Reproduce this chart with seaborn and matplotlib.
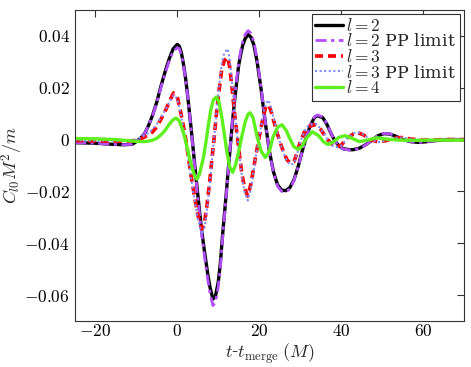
#!/usr/bin/env python3
"""
Ringdown multipole amplitudes C_l0 vs time relative to merger
"""

import numpy as np
import pandas as pd
import matplotlib
matplotlib.use('Agg')
import matplotlib.pyplot as plt
from matplotlib.ticker import FuncFormatter
import seaborn as sns

# l = 2 (full and PP limit share the time samples)
t_l2 = [-25, -20, -16, -13, -11, -10, -9, -8, -7, -6, -5, -4, -3, -2, -1, 0,
        0.5, 1, 1.5, 2, 2.5, 3, 3.5, 4, 4.5, 5, 5.5, 6, 6.5, 7, 7.5, 8, 8.7,
        9.3, 10, 10.5, 11, 11.5, 12, 12.5, 13, 13.5, 14, 14.5, 15, 15.5, 16,
        16.6, 17.3, 18, 18.7, 19.5, 20.5, 21.5, 22.5, 23.5, 24.5, 25.5, 26.5,
        27.5, 28.5, 29.5, 30.5, 31.5, 32.5, 33.5, 34.2, 35.5, 36.5, 37.5,
        38.5, 39.5, 40.5, 42, 43, 44.5, 46, 47.5, 49, 50.5, 52, 53.5, 55, 57,
        59, 61, 63, 66, 70]
c_l2 = [-0.0012, -0.0014, -0.0018, -0.0020, -0.0018, -0.0008, 0.0005, 0.0022,
        0.0055, 0.0095, 0.0145, 0.0205, 0.0260, 0.0310, 0.0350, 0.0367,
        0.0360, 0.0335, 0.0292, 0.0240, 0.0175, 0.0100, 0.0025, -0.0055,
        -0.0135, -0.0210, -0.0285, -0.0355, -0.0415, -0.0470, -0.0525,
        -0.0570, -0.0615, -0.0605, -0.0550, -0.0480, -0.0380, -0.0290,
        -0.0200, -0.0107, -0.0017, 0.0072, 0.0150, 0.0220, 0.0287, 0.0330,
        0.0365, 0.0390, 0.0405, 0.0395, 0.0365, 0.0300, 0.0190, 0.0065,
        -0.0045, -0.0125, -0.0175, -0.0195, -0.0197, -0.0185, -0.0155,
        -0.0105, -0.0045, 0.0010, 0.0055, 0.0085, 0.0092, 0.0085, 0.0060,
        0.0025, -0.0005, -0.0025, -0.0035, -0.0039, -0.0039, -0.0033,
        -0.0020, -0.0003, 0.0015, 0.0023, 0.0021, 0.0012, 0.0001, -0.0008,
        -0.0011, -0.0008, -0.0004, 0.0000, 0.0000]
c_l2_pp = [-0.0012, -0.0014, -0.0018, -0.0020, -0.0018, -0.0008, 0.0005,
           0.0022, 0.0055, 0.0093, 0.0142, 0.0200, 0.0253, 0.0302, 0.0340,
           0.0355, 0.0350, 0.0328, 0.0288, 0.0238, 0.0174, 0.0099, 0.0022,
           -0.0060, -0.0142, -0.0220, -0.0297, -0.0370, -0.0432, -0.0490,
           -0.0545, -0.0592, -0.0640, -0.0628, -0.0570, -0.0497, -0.0393,
           -0.0300, -0.0206, -0.0110, -0.0016, 0.0076, 0.0157, 0.0230,
           0.0298, 0.0343, 0.0379, 0.0406, 0.0420, 0.0410, 0.0378, 0.0310,
           0.0196, 0.0067, -0.0046, -0.0128, -0.0180, -0.0200, -0.0202,
           -0.0190, -0.0158, -0.0107, -0.0046, 0.0011, 0.0057, 0.0088,
           0.0095, 0.0088, 0.0062, 0.0026, -0.0005, -0.0026, -0.0036,
           -0.0040, -0.0040, -0.0034, -0.0021, -0.0003, 0.0015, 0.0024,
           0.0022, 0.0012, 0.0001, -0.0008, -0.0011, -0.0008, -0.0004,
           0.0000, 0.0000]

# l = 3 (full and PP limit)
t_l3 = [-25, -20, -15, -12, -10, -9, -8, -7, -6, -5, -4, -3, -2, -0.9, 0,
        0.7, 1.3, 2, 2.6, 3.2, 3.8, 4.4, 5, 6, 6.6, 7.2, 8, 8.5, 9, 9.7, 10.3,
        10.9, 11.5, 12.3, 12.8, 13.3, 14, 14.6, 15.2, 15.8, 16.5, 17.2, 18,
        18.6, 19.3, 20.2, 21, 21.6, 22.3, 23, 23.5, 24.3, 25.1, 26, 26.8,
        27.7, 28.5, 29.3, 30, 31, 32, 33.7, 35, 36.6, 38, 39, 40, 41.5, 43,
        44, 45.5, 47, 49, 51, 53, 55, 57, 60, 65, 70]
c_l3 = [-0.0004, -0.0005, -0.0006, -0.0006, -0.0003, 0.0002, 0.0010, 0.0018,
        0.0030, 0.0050, 0.0078, 0.0108, 0.0145, 0.0180, 0.0165, 0.0115,
        0.0070, 0.0008, -0.0055, -0.0122, -0.0180, -0.0237, -0.0290,
        -0.0344, -0.0325, -0.0260, -0.0150, -0.0069, 0.0005, 0.0122,
        0.0200, 0.0275, 0.0305, 0.0317, 0.0280, 0.0210, 0.0100, 0.0019,
        -0.0060, -0.0134, -0.0190, -0.0218, -0.0170, -0.0115, -0.0050,
        0.0025, 0.0090, 0.0125, 0.0135, 0.0105, 0.0075, 0.0030, -0.0011,
        -0.0050, -0.0078, -0.0092, -0.0085, -0.0050, -0.0010, 0.0028,
        0.0050, 0.0058, 0.0040, 0.0002, -0.0022, -0.0027, -0.0022, 0.0005,
        0.0022, 0.0027, 0.0018, 0.0000, -0.0009, -0.0004, 0.0006, 0.0008,
        0.0002, -0.0002, 0.0000, 0.0000]
c_l3_pp = [-0.0003, -0.0004, -0.0005, -0.0004, 0.0000, 0.0007, 0.0016,
           0.0026, 0.0040, 0.0060, 0.0085, 0.0112, 0.0142, 0.0172, 0.0158,
           0.0108, 0.0062, 0.0000, -0.0064, -0.0132, -0.0192, -0.0250,
           -0.0305, -0.0365, -0.0345, -0.0278, -0.0162, -0.0074, 0.0005,
           0.0130, 0.0215, 0.0298, 0.0335, 0.0350, 0.0310, 0.0232, 0.0110,
           0.0020, -0.0065, -0.0145, -0.0205, -0.0235, -0.0185, -0.0124,
           -0.0052, 0.0028, 0.0100, 0.0140, 0.0152, 0.0118, 0.0084, 0.0033,
           -0.0012, -0.0054, -0.0084, -0.0098, -0.0090, -0.0053, -0.0010,
           0.0030, 0.0054, 0.0062, 0.0043, 0.0002, -0.0024, -0.0029, -0.0024,
           0.0005, 0.0024, 0.0029, 0.0019, 0.0000, -0.0010, -0.0004, 0.0006,
           0.0008, 0.0002, -0.0002, 0.0000, 0.0000]

# l = 4
t_l4 = [-25, -20, -15, -12, -10, -8, -7, -6, -5, -4, -3, -2, -1, -0.3, 0.5,
        1.1, 1.8, 2.4, 3, 3.6, 4.2, 4.8, 5.4, 6, 6.4, 7, 7.6, 8.2, 8.8, 9.5,
        10.2, 10.9, 11.5, 12.1, 12.8, 13.5, 14.2, 15, 15.8, 16.6, 17.3, 17.8,
        18.5, 19.5, 20.5, 21.5, 22.5, 23.4, 24.5, 25.6, 26.6, 27.6, 28.5,
        29.5, 30.5, 31.5, 33, 34.5, 35.7, 36.8, 38, 39.5, 41, 42.5, 44.5,
        46.5, 48.8, 51, 54, 58, 62, 66, 70]
c_l4 = [0.0004, 0.0003, 0.0000, -0.0004, -0.0007, -0.0008, -0.0006, -0.0002,
        0.0005, 0.0018, 0.0035, 0.0058, 0.0077, 0.0083, 0.0072, 0.0046,
        0.0010, -0.0030, -0.0072, -0.0107, -0.0138, -0.0153, -0.0135,
        -0.0095, -0.0069, -0.0010, 0.0057, 0.0115, 0.0152, 0.0164, 0.0145,
        0.0084, 0.0020, -0.0046, -0.0105, -0.0126, -0.0100, -0.0046, 0.0015,
        0.0069, 0.0098, 0.0103, 0.0085, 0.0011, -0.0045, -0.0069, -0.0045,
        0.0011, 0.0048, 0.0057, 0.0035, 0.0000, -0.0028, -0.0038, -0.0025,
        0.0005, 0.0030, 0.0015, -0.0008, -0.0019, -0.0010, 0.0009, 0.0015,
        0.0006, -0.0008, -0.0002, 0.0007, 0.0002, -0.0002, -0.0003, -0.0002,
        -0.0002, -0.0002]

x_ticks = [-20, 0, 20, 40, 60]
y_ticks = [-0.06, -0.04, -0.02, 0, 0.02, 0.04]

sns.set_style('white')
plt.rcParams['font.family'] = ['DejaVu Serif']
plt.rcParams['mathtext.fontset'] = 'cm'

fig = plt.figure(figsize=(4.71, 3.67), dpi=100)
ax = fig.add_axes([0.159, 0.125, 0.826, 0.848])

# (t, values, label, colour, dash pattern, width)
curves = [
    (t_l2, c_l2, '$l=2$', 'black', '-', 2.4),
    (t_l2, c_l2_pp, '$l=2$ PP limit', '#b34dff', (0, (4, 1.6, 1.2, 1.6)), 2.0),
    (t_l3, c_l3, '$l=3$', '#ff0000', (0, (2.2, 1.4)), 2.6),
    (t_l3, c_l3_pp, '$l=3$ PP limit', '#7f8cff', (0, (1, 1.2)), 1.5),
    (t_l4, c_l4, '$l=4$', '#5ef01e', '-', 2.4),
]
for t, c, lab, col, ls, lw in curves:
    df = pd.DataFrame({'t': t, 'c': c})
    sns.lineplot(data=df, x='t', y='c', ax=ax, color=col, linestyle=ls,
                 linewidth=lw, label=lab, estimator=None, sort=False)

ax.set_xlim(-25, 70)
ax.set_ylim(-0.07, 0.05)
ax.set_xticks(x_ticks)
ax.set_yticks(y_ticks)
ax.xaxis.set_major_formatter(FuncFormatter(lambda v, p: f'${v:g}$'))
ax.yaxis.set_major_formatter(FuncFormatter(lambda v, p: f'${v:g}$'))
ax.tick_params(direction='in', top=True, right=True, length=5, width=0.8,
               labelsize=12.5, colors='#333333', labelcolor='black')
ax.tick_params(axis='x', pad=1)
for s in ax.spines.values():
    s.set_color('#333333')
    s.set_linewidth(0.8)

ax.set_xlabel(r'$t$-$t_{\rm merge}\;(M)$', fontsize=13)
ax.set_ylabel(r'$C_{l0}M^2/m$', fontsize=13)
ax.xaxis.set_label_coords(0.5, -0.065)
ax.yaxis.set_label_coords(-0.128, 0.5)

leg = ax.legend(loc='upper right', fontsize=12.5, handlelength=1.6,
                handletextpad=0.2, labelspacing=-0.08, borderpad=0.2,
                borderaxespad=0.25, fancybox=False, framealpha=1,
                edgecolor='#333333')
leg.get_frame().set_linewidth(0.8)

plt.savefig('out.png', dpi=100)
